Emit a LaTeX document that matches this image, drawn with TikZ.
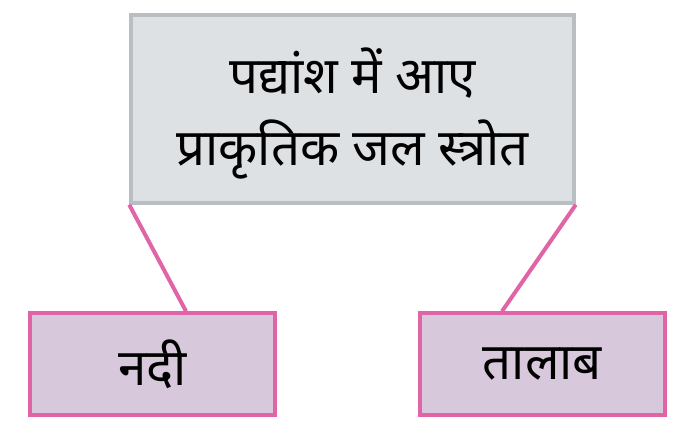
\documentclass[tikz,border=0pt]{standalone}
\usepackage{fontspec}
\newfontfamily\deva[Script=Devanagari]{Noto Sans}
\definecolor{topfill}{HTML}{DEE1E4}
\definecolor{topline}{HTML}{B9BEC3}
\definecolor{pinkline}{HTML}{E064A6}
\definecolor{lavfill}{HTML}{D8C8DC}
\tikzset{
  topbox/.style={draw=topline, fill=topfill, line width=3.5pt, minimum width=443pt, minimum height=188pt, inner sep=0pt, align=center},
  topfont/.style={font=\deva\fontsize{51}{72}\selectfont, align=center},
  leafbox/.style={draw=pinkline, fill=lavfill, line width=3.5pt, minimum width=245pt, minimum height=102pt, inner sep=0pt, font=\deva\fontsize{51}{60}\selectfont},
  link/.style={draw=pinkline, line width=4pt}
}
\begin{document}
\begin{tikzpicture}[x=1pt,y=-1pt]
\useasboundingbox (0,0) rectangle (684,432);
\node[topbox] (top) at (352.5,109) {};
\node[topfont] (toptext) at (352.5,113) {पद्यांश में आए\\प्राकृतिक जल स्त्रोत};
\node[leafbox] (left) at (152.5,364) {नदी};
\node[leafbox] (right) at (542.5,364) {तालाब};
\draw[link] (top.south west) -- ([xshift=33.5pt]left.north);
\draw[link] (top.south east) -- ([xshift=-40.5pt]right.north);
\end{tikzpicture}
\end{document}
